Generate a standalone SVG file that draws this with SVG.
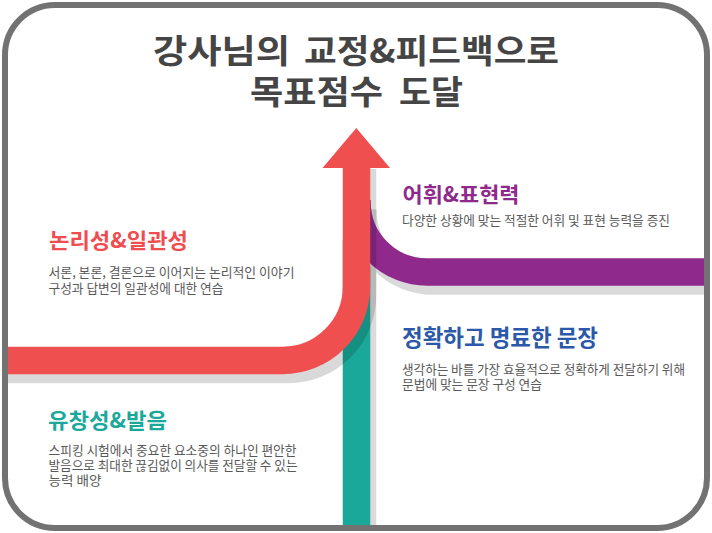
<svg xmlns="http://www.w3.org/2000/svg" width="712" height="533" viewBox="0 0 712 533">
  <style>
    text { font-family: "Noto Sans CJK KR", "Noto Sans", sans-serif; }
    .title { font-size: 33px; font-weight: 700; fill: #454545; }
    .head { font-size: 21px; font-weight: 700; }
    .desc { font-size: 13px; fill: #595959; }
    .band { fill: none; stroke-width: 27.5; }
    .shadowGray { fill: none; stroke: #dadada; stroke-width: 27.5; }
  </style>
  <rect x="0" y="0" width="712" height="533" fill="#ffffff"/>

  <g id="connectors">
    <!-- teal band -->
    <path class="shadowGray" d="M 362.5 240 V 528"/>
    <path class="band" stroke="#1aa89b" d="M 356.5 240 V 528"/>
    <!-- purple band -->
    <path class="shadowGray" d="M 363 209 A 70 70 0 0 0 433 281 H 707"/>
    <path class="band" stroke="#8f2a8c" d="M 357 200 V 202 A 70 70 0 0 0 427 272 H 707"/>
    <!-- red arrow shadow -->
    <path fill="none" stroke="#000000" stroke-opacity="0.15" stroke-width="27.5" d="M 5 369.5 H 288.5 A 74 74 0 0 0 362.5 295.5 V 169"/>
    <!-- red arrow -->
    <path class="band" stroke="#f04f50" d="M 5 360.5 H 282.5 A 74 74 0 0 0 356.5 286.5 V 167"/>
    <polygon fill="#f04f50" points="322.5,168 356.3,128 390,168"/>
  </g>

  <g id="title">
    <text class="title" x="153" y="63" textLength="137" lengthAdjust="spacingAndGlyphs">강사님의</text>
    <text class="title" x="304" y="63" textLength="255" lengthAdjust="spacingAndGlyphs">교정&amp;피드백으로</text>
    <text class="title" x="250" y="104" textLength="133" lengthAdjust="spacingAndGlyphs">목표점수</text>
    <text class="title" x="399" y="104" textLength="64" lengthAdjust="spacingAndGlyphs">도달</text>
  </g>

  <g id="node-logic">
    <text class="head" x="49" y="248" fill="#ef4d4f" textLength="139" lengthAdjust="spacingAndGlyphs">논리성&amp;일관성</text>
    <text class="desc" x="48.5" y="277" textLength="246" lengthAdjust="spacingAndGlyphs">서론, 본론, 결론으로 이어지는 논리적인 이야기</text>
    <text class="desc" x="48.5" y="292.5" textLength="175" lengthAdjust="spacingAndGlyphs">구성과 답변의 일관성에 대한 연습</text>
  </g>

  <g id="node-vocab">
    <text class="head" x="402.5" y="202" fill="#8f2a8c" textLength="117" lengthAdjust="spacingAndGlyphs">어휘&amp;표현력</text>
    <text class="desc" x="402" y="225" textLength="268" lengthAdjust="spacingAndGlyphs">다양한 상황에 맞는 적절한 어휘 및 표현 능력을 증진</text>
  </g>

  <g id="node-sentence">
    <text class="head" x="402" y="346" fill="#2b58a8" style="font-size:22.5px" textLength="196" lengthAdjust="spacingAndGlyphs">정확하고 명료한 문장</text>
    <text class="desc" x="402" y="374" textLength="283" lengthAdjust="spacingAndGlyphs">생각하는 바를 가장 효율적으로 정확하게 전달하기 위해</text>
    <text class="desc" x="402" y="389" textLength="140" lengthAdjust="spacingAndGlyphs">문법에 맞는 문장 구성 연습</text>
  </g>

  <g id="node-fluency">
    <text class="head" x="48" y="428" fill="#1aa89b" textLength="119" lengthAdjust="spacingAndGlyphs">유창성&amp;발음</text>
    <text class="desc" x="48.5" y="455" textLength="248" lengthAdjust="spacingAndGlyphs">스피킹 시험에서 중요한 요소중의 하나인 편안한</text>
    <text class="desc" x="48.5" y="470" textLength="249" lengthAdjust="spacingAndGlyphs">발음으로 최대한 끊김없이 의사를 전달할 수 있는</text>
    <text class="desc" x="48.5" y="485" textLength="53" lengthAdjust="spacingAndGlyphs">능력 배양</text>
  </g>

  <rect id="frame" x="5" y="5" width="702" height="523" rx="50" ry="50" fill="none" stroke="#727272" stroke-width="6"/>
</svg>
